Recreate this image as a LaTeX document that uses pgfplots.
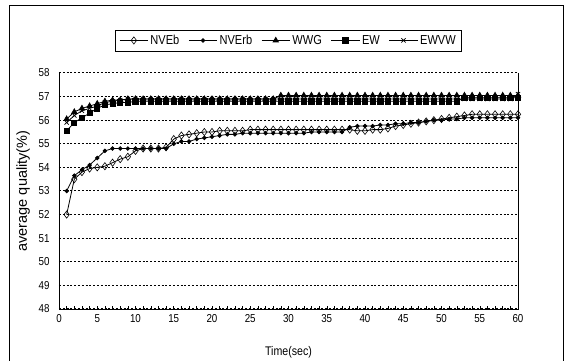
\documentclass[border=0pt]{standalone}
\usepackage{fontspec}
\setmainfont{Liberation Sans}[FakeStretch=0.85]
\newfontfamily\ylfont{Liberation Sans}
\usepackage{pgfplots}
\pgfplotsset{compat=1.18}
\newcommand{\tf}{\fontsize{11.5}{13}\selectfont}
\begin{document}
\begin{tikzpicture}
\path[use as bounding box] (-59pt,-52pt) rectangle (507pt,309pt);
\draw[black, line width=0.6pt] (-50pt,-53pt) -- (-50pt,304pt) -- (504pt,304pt) -- (504pt,-53pt);
\begin{axis}[
  scale only axis, width=459pt, height=236pt,
  xmin=0, xmax=60, ymin=48, ymax=58,
  xtick={0,5,...,60}, minor x tick num=4,
  ytick={48,49,...,58},
  xtick pos=bottom, ytick pos=left,
  tick align=inside,
  major tick length=3pt, minor tick length=3pt,
  ytick style={draw=none},
  tick style={black, line width=0.5pt},
  axis line style={draw=none},
  ymajorgrids,
  major grid style={black, line width=1pt, dash pattern=on 2pt off 1.8pt},
  /pgf/number format/assume math mode=true,
  ticklabel style={font=\tf},
  xticklabel style={anchor=center, yshift=-10pt},
  yticklabel style={anchor=east, xshift=-6pt},
  xlabel={Time(sec)}, ylabel={average quality(\%)},
  every axis x label/.style={at={(axis description cs:0.5,0)}, anchor=center, yshift=-43pt, font=\fontsize{12.5}{14}\selectfont},
  every axis y label/.style={at={(axis description cs:-0.078,0.5)}, anchor=center, rotate=90, font=\ylfont\fontsize{14.5}{16}\selectfont},
  legend columns=5,
  legend style={at={(0.5,1.138)}, anchor=center, draw=black, line width=0.6pt, font=\fontsize{13}{15}\selectfont, inner xsep=4pt, inner ysep=3pt, /tikz/every even column/.append style={column sep=7pt}},
  legend image code/.code={\draw[mark repeat=2,mark phase=2,#1] plot coordinates {(0cm,0cm) (0.5cm,0cm) (1.0cm,0cm)};},
  legend image post style={line width=0.8pt},
  clip=false,
]
\addplot[black, line width=0.8pt, mark=diamond, mark size=3.6pt, mark options={fill=white, line width=0.6pt}] coordinates {
(1,52.0)(2,53.5)(3,53.8)(4,53.95)(5,54.0)(6,54.05)(7,54.2)(8,54.35)(9,54.45)(10,54.7)
(11,54.8)(12,54.8)(13,54.8)(14,54.85)(15,55.2)(16,55.35)(17,55.4)(18,55.45)(19,55.5)(20,55.5)
(21,55.55)(22,55.55)(23,55.55)(24,55.55)(25,55.6)(26,55.6)(27,55.6)(28,55.6)(29,55.6)(30,55.6)
(31,55.6)(32,55.6)(33,55.6)(34,55.6)(35,55.6)(36,55.6)(37,55.6)(38,55.6)(39,55.55)(40,55.55)
(41,55.6)(42,55.6)(43,55.65)(44,55.75)(45,55.8)(46,55.85)(47,55.9)(48,55.95)(49,56.0)(50,56.05)
(51,56.1)(52,56.15)(53,56.2)(54,56.25)(55,56.25)(56,56.25)(57,56.25)(58,56.25)(59,56.25)(60,56.25)
};
\addlegendentry{NVEb}
\addplot[black, line width=0.8pt, mark=*, mark size=1.8pt] coordinates {
(1,53.0)(2,53.65)(3,53.9)(4,54.1)(5,54.4)(6,54.7)(7,54.8)(8,54.8)(9,54.8)(10,54.8)
(11,54.8)(12,54.8)(13,54.8)(14,54.8)(15,55.0)(16,55.1)(17,55.1)(18,55.2)(19,55.25)(20,55.3)
(21,55.35)(22,55.4)(23,55.4)(24,55.45)(25,55.45)(26,55.45)(27,55.45)(28,55.45)(29,55.45)(30,55.45)
(31,55.45)(32,55.45)(33,55.5)(34,55.5)(35,55.5)(36,55.5)(37,55.5)(38,55.7)(39,55.75)(40,55.75)
(41,55.75)(42,55.8)(43,55.8)(44,55.85)(45,55.85)(46,55.9)(47,55.9)(48,55.95)(49,56.0)(50,56.0)
(51,56.05)(52,56.05)(53,56.1)(54,56.1)(55,56.1)(56,56.1)(57,56.1)(58,56.1)(59,56.1)(60,56.1)
};
\addlegendentry{NVErb}
\addplot[black, line width=0.8pt, mark=triangle*, mark size=3pt] coordinates {
(1,56.05)(2,56.35)(3,56.5)(4,56.6)(5,56.7)(6,56.8)(7,56.85)(8,56.85)(9,56.9)(10,56.9)
(11,56.9)(12,56.9)(13,56.9)(14,56.9)(15,56.9)(16,56.9)(17,56.9)(18,56.9)(19,56.9)(20,56.9)
(21,56.9)(22,56.9)(23,56.9)(24,56.9)(25,56.9)(26,56.9)(27,56.9)(28,56.9)(29,57.05)(30,57.05)
(31,57.05)(32,57.05)(33,57.05)(34,57.05)(35,57.05)(36,57.05)(37,57.05)(38,57.05)(39,57.05)(40,57.05)
(41,57.05)(42,57.05)(43,57.05)(44,57.05)(45,57.05)(46,57.05)(47,57.05)(48,57.05)(49,57.05)(50,57.05)
(51,57.05)(52,57.05)(53,57.05)(54,57.05)(55,57.05)(56,57.05)(57,57.05)(58,57.05)(59,57.05)(60,57.05)
};
\addlegendentry{WWG}
\addplot[black, line width=0.8pt, mark=square*, mark size=2.6pt] coordinates {
(1,55.55)(2,55.9)(3,56.1)(4,56.3)(5,56.5)(6,56.65)(7,56.7)(8,56.75)(9,56.75)(10,56.8)
(11,56.8)(12,56.8)(13,56.8)(14,56.8)(15,56.8)(16,56.8)(17,56.8)(18,56.8)(19,56.8)(20,56.8)
(21,56.8)(22,56.8)(23,56.8)(24,56.8)(25,56.8)(26,56.8)(27,56.8)(28,56.8)(29,56.8)(30,56.8)
(31,56.8)(32,56.8)(33,56.8)(34,56.8)(35,56.8)(36,56.8)(37,56.8)(38,56.8)(39,56.8)(40,56.8)
(41,56.8)(42,56.8)(43,56.8)(44,56.8)(45,56.8)(46,56.8)(47,56.8)(48,56.8)(49,56.8)(50,56.8)
(51,56.8)(52,56.8)(53,56.95)(54,56.95)(55,56.95)(56,56.95)(57,56.95)(58,56.95)(59,56.95)(60,56.95)
};
\addlegendentry{EW}
\addplot[black, line width=0.8pt, mark=x, mark size=3pt, mark options={line width=0.7pt}] coordinates {
(1,55.9)(2,56.2)(3,56.4)(4,56.5)(5,56.6)(6,56.75)(7,56.8)(8,56.85)(9,56.9)(10,56.9)
(11,56.9)(12,56.9)(13,56.9)(14,56.9)(15,56.9)(16,56.9)(17,56.9)(18,56.9)(19,56.9)(20,56.9)
(21,56.9)(22,56.9)(23,56.9)(24,56.9)(25,56.9)(26,56.9)(27,56.9)(28,56.9)(29,56.9)(30,56.9)
(31,56.9)(32,56.9)(33,56.9)(34,56.9)(35,56.9)(36,56.9)(37,56.9)(38,56.9)(39,56.9)(40,56.9)
(41,56.9)(42,56.9)(43,56.9)(44,56.9)(45,56.9)(46,56.9)(47,56.9)(48,56.9)(49,56.9)(50,56.9)
(51,56.9)(52,56.9)(53,56.9)(54,56.9)(55,56.9)(56,56.9)(57,56.9)(58,56.9)(59,56.9)(60,57.1)
};
\addlegendentry{EWVW}
\draw[black, line width=0.9pt] (rel axis cs:0,1) -- (rel axis cs:0,0) -- (rel axis cs:1,0) -- (rel axis cs:1,1);
\end{axis}
\end{tikzpicture}
\end{document}
